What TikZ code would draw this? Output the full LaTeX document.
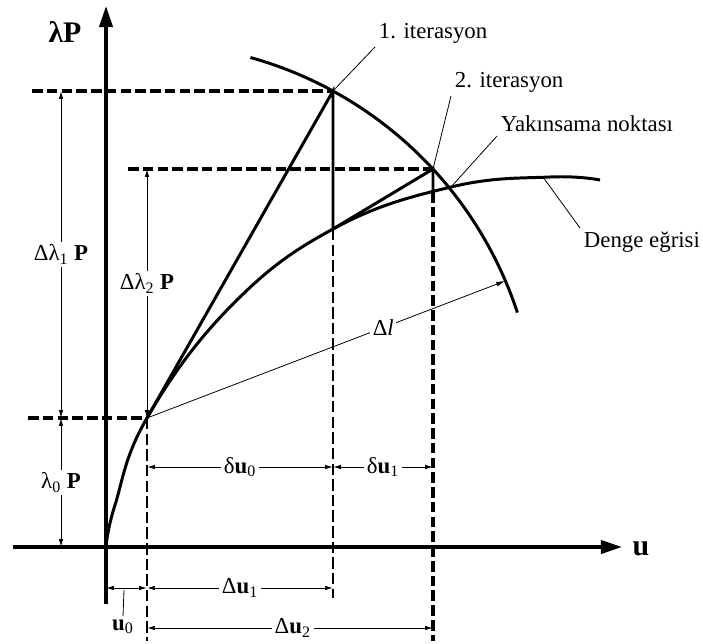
\documentclass[tikz,border=0pt]{standalone}
\usepackage{fontspec}
\setmainfont{Liberation Serif}
\usepackage{tikz}
\usetikzlibrary{arrows.meta}

\begin{document}
\begin{tikzpicture}[
    x=0.02cm,y=-0.02cm,
    axis/.style={line width=2pt,-{Triangle[length=12pt,width=7.5pt]}},
    curve/.style={line width=1.7pt},
    guide/.style={line width=1.8pt,dash pattern=on 6pt off 2.4pt},
    guidethin/.style={line width=1.3pt,dash pattern=on 6.5pt off 2.4pt},
    dimline/.style={line width=0.55pt,{Latex[length=4.5pt,width=2.6pt]}-{Latex[length=4.5pt,width=2.6pt]}},
    leader/.style={line width=0.45pt},
    lbl/.style={font=\fontsize{13}{15}\selectfont,inner sep=2pt},
    dimlbl/.style={lbl,fill=white,inner sep=1.5pt},
    axlbl/.style={font=\fontsize{17}{19}\selectfont\bfseries,inner sep=0pt}
]
\useasboundingbox (0,0) rectangle (703,643);

\coordinate (O) at (106,547);
\coordinate (A) at (147,418);
\coordinate (P1) at (333,91);
\coordinate (C1) at (333,229);
\coordinate (P2) at (433,169);
\coordinate (C2) at (433,192);
\coordinate (K) at (451,187);
\coordinate (D1) at (543,177);
\coordinate (L) at (505,281);

\draw[axis] (106,604) -- (106,6);
\draw[axis] (13,547) -- (622,547);
\node[axlbl] (lamP) at (65,32) {λP};
\node[axlbl] (uax) at (641,549) {u};

\draw[guide] (32,91) -- (P1);
\draw[guide] (128,169) -- (P2);
\draw[guide] (28,418) -- (A);
\draw[guidethin] (A) -- (147,641);
\draw[guidethin] (C1) -- (333,598);
\draw[guide] (C2) -- (433,641);

\draw[curve] plot[smooth,tension=0.7] coordinates {(106,547) (115,505) (147,418) (230,307) (333,229) (451,187) (550,177) (600,180)};
\draw[curve] plot[domain=18.2:74.4,samples=60,smooth] ({145+392*cos(\x)},{435-392*sin(\x)});
\draw[curve] (A) -- (P1) -- (C1);
\draw[curve] (C1) -- (P2) -- (C2);

\draw[leader,-{Latex[length=5pt,width=2.8pt]}] (A) -- node[dimlbl,pos=0.66] (dl) {Δ\textit{l}} (L);

\draw[dimline] (61,91) -- node[dimlbl] (dlam1) {Δλ\textsubscript{1} \textbf{P}} (61,418);
\draw[dimline] (61,418) -- node[dimlbl] (lam0) {λ\textsubscript{0} \textbf{P}} (61,547);
\draw[dimline] (147,169) -- node[dimlbl,pos=0.46] (dlam2) {Δλ\textsubscript{2} \textbf{P}} (A);

\draw[dimline] (147,467) -- node[dimlbl] (du0) {δ\textbf{u}\textsubscript{0}} (333,467);
\draw[dimline] (333,467) -- node[dimlbl] (du1) {δ\textbf{u}\textsubscript{1}} (433,467);
\draw[dimline] (106,588) -- (147,588);
\draw[dimline] (147,588) -- node[dimlbl] (Du1) {Δ\textbf{u}\textsubscript{1}} (333,588);
\draw[dimline] (147,628) -- node[dimlbl,pos=0.51] (Du2) {Δ\textbf{u}\textsubscript{2}} (433,628);

\node[lbl] (u0) at (123,627) {\textbf{u}\textsubscript{0}};
\draw[leader] (124,590) -- (u0.north);

\node[lbl,anchor=south west] (it1) at (375,47) {1. iterasyon};
\node[lbl,anchor=south west] (it2) at (451,96) {2. iterasyon};
\node[lbl,anchor=south west] (yak) at (497,136) {Yakınsama noktası};
\node[lbl,anchor=north west] (den) at (580,228) {Denge eğrisi};
\draw[leader] (P1) -- (it1.south west);
\draw[leader] (P2) -- (it2.south west);
\draw[leader] (K) -- (yak.south west);
\draw[leader] (D1) -- (den.north west);
\end{tikzpicture}
\end{document}
